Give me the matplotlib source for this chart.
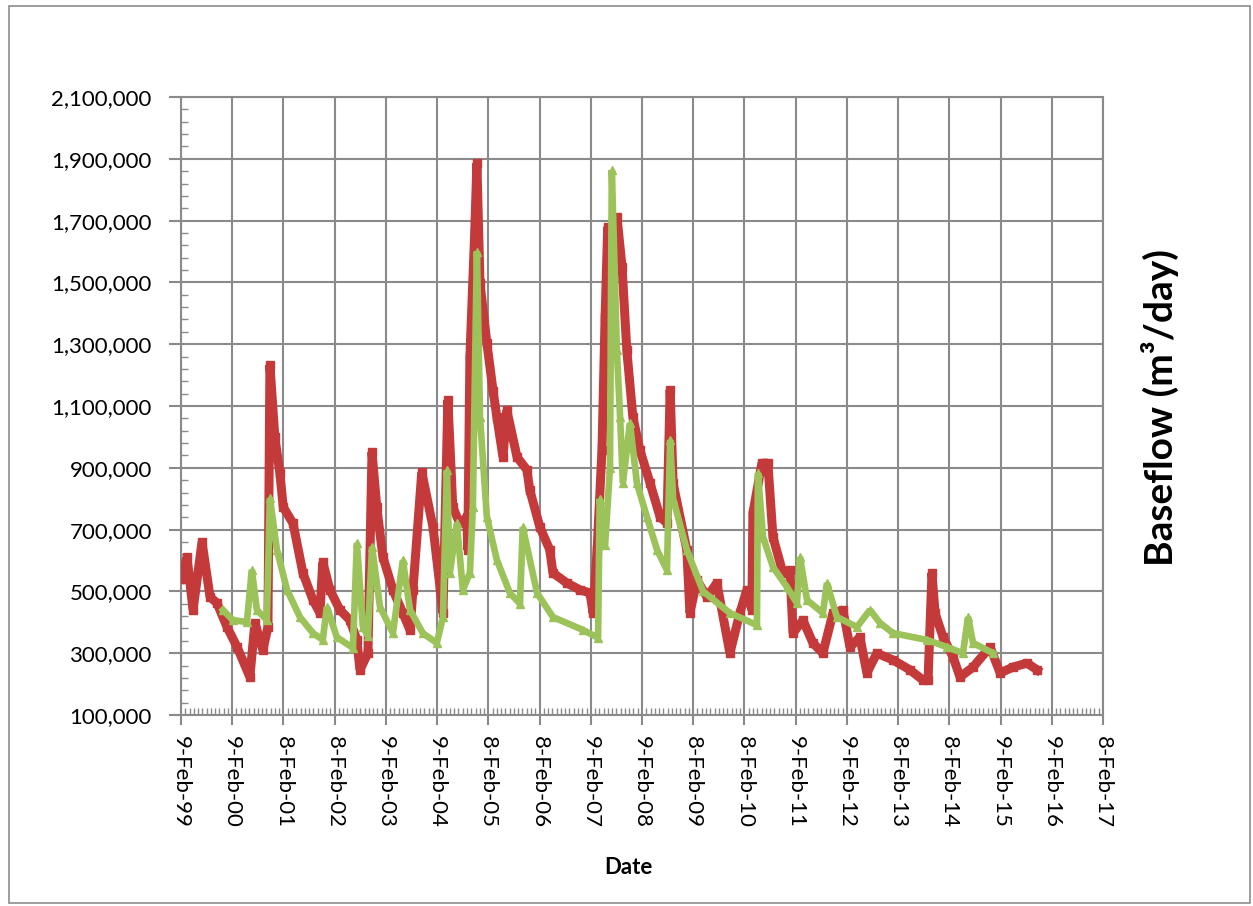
import matplotlib
matplotlib.use("Agg")
import matplotlib.pyplot as plt
import matplotlib.dates as mdates
from matplotlib.ticker import FixedLocator, FuncFormatter
from matplotlib.patches import Rectangle
import pandas as pd
import datetime as dt

# ---------------- data ----------------
red_dates = ["1999-02-10", "1999-03-24", "1999-05-06", "1999-07-09", "1999-09-04", "1999-10-24",
             "2000-01-03", "2000-03-15", "2000-06-14", "2000-07-20", "2000-09-15", "2000-10-21",
             "2000-11-04", "2000-12-09", "2001-01-14", "2001-02-07", "2001-04-18", "2001-06-27",
             "2001-09-07", "2001-10-27", "2001-11-16", "2002-01-06", "2002-03-18", "2002-05-29",
             "2002-07-17", "2002-08-08", "2002-10-04", "2002-11-02", "2002-12-06", "2003-01-19",
             "2003-03-31", "2003-06-10", "2003-07-31", "2003-08-21", "2003-10-23", "2004-01-11",
             "2004-03-01", "2004-03-22", "2004-04-26", "2004-05-31", "2004-07-20", "2004-09-08",
             "2004-09-15", "2004-09-30", "2004-11-04", "2004-11-19", "2004-12-11", "2005-01-29",
             "2005-03-14", "2005-04-10", "2005-05-24", "2005-06-20", "2005-09-01", "2005-11-11",
             "2005-12-01", "2006-02-11", "2006-04-23", "2006-05-15", "2006-08-23", "2006-11-24",
             "2007-02-04", "2007-02-25", "2007-03-26", "2007-04-30", "2007-05-22", "2007-06-10",
             "2007-07-09", "2007-08-15", "2007-09-20", "2007-10-24", "2007-12-06", "2008-01-25",
             "2008-04-07", "2008-06-17", "2008-08-05", "2008-08-28", "2008-09-18", "2008-12-25",
             "2009-01-16", "2009-03-07", "2009-05-17", "2009-07-27", "2009-10-28", "2010-01-07",
             "2010-02-26", "2010-04-03", "2010-04-10", "2010-06-13", "2010-07-26", "2010-08-31",
             "2010-11-10", "2010-12-30", "2011-01-21", "2011-04-02", "2011-06-12", "2011-08-22",
             "2011-11-02", "2012-01-12", "2012-03-02", "2012-05-12", "2012-07-01", "2012-09-10",
             "2013-01-03", "2013-05-04", "2013-08-05", "2013-09-10", "2013-10-08", "2013-10-30",
             "2013-12-26", "2014-03-07", "2014-04-26", "2014-07-28", "2014-11-26", "2015-02-06",
             "2015-05-09", "2015-08-17", "2015-10-28"]
red_values = [540000, 611000, 440000, 660000, 482000, 462000,
              385000, 320000, 223000, 398000, 310000, 385000,
              1233000, 1000000, 883000, 773000, 720000, 560000,
              472000, 430000, 595000, 505000, 440000, 407000,
              343000, 246000, 300000, 951000, 773000, 611000,
              505000, 430000, 375000, 505000, 886000, 708000,
              514000, 430000, 1120000, 773000, 720000, 740000,
              634000, 1258000, 1669000, 1886000, 1498000, 1304000,
              1150000, 1065000, 935000, 1087000, 935000, 893000,
              828000, 708000, 634000, 560000, 527000, 505000,
              495000, 430000, 634000, 958000, 1388000, 1680000,
              1600000, 1711000, 1550000, 1281000, 1065000, 958000,
              850000, 741000, 721000, 1152000, 850000, 634000,
              430000, 537000, 482000, 527000, 300000, 430000,
              505000, 440000, 753000, 915000, 915000, 676000,
              560000, 569000, 365000, 407000, 333000, 300000,
              430000, 440000, 320000, 352000, 236000, 300000,
              278000, 246000, 213000, 213000, 560000, 430000,
              352000, 288000, 223000, 255000, 320000, 236000,
              255000, 268000, 246000]

green_dates = ["1999-12-05", "2000-02-14", "2000-05-24", "2000-06-28", "2000-08-03", "2000-10-13",
               "2000-11-04", "2000-12-24", "2001-03-06", "2001-06-06", "2001-09-07", "2001-11-16",
               "2001-12-15", "2002-02-24", "2002-06-19", "2002-07-17", "2002-08-29", "2002-10-04",
               "2002-11-02", "2002-12-29", "2003-03-31", "2003-06-10", "2003-07-31", "2003-10-30",
               "2004-02-07", "2004-03-22", "2004-04-19", "2004-05-10", "2004-06-29", "2004-08-11",
               "2004-09-30", "2004-10-21", "2004-11-19", "2004-12-11", "2005-01-29", "2005-04-10",
               "2005-07-12", "2005-09-22", "2005-10-12", "2006-01-22", "2006-05-15", "2006-12-16",
               "2007-04-02", "2007-04-14", "2007-05-22", "2007-06-26", "2007-07-09", "2007-08-14",
               "2007-09-06", "2007-09-26", "2007-11-15", "2008-01-04", "2008-03-15", "2008-05-27",
               "2008-08-05", "2008-08-28", "2008-09-18", "2008-12-25", "2009-04-20", "2009-10-28",
               "2010-05-09", "2010-05-16", "2010-06-21", "2010-08-31", "2010-12-09", "2011-02-18",
               "2011-03-12", "2011-05-01", "2011-08-22", "2011-09-20", "2011-11-30", "2012-04-21",
               "2012-07-23", "2012-10-02", "2013-01-03", "2013-09-02", "2014-01-23", "2014-05-17",
               "2014-06-22", "2014-07-28", "2014-12-18"]
green_values = [440000, 407000, 401000, 570000, 440000, 407000,
                802000, 634000, 505000, 417000, 365000, 343000,
                450000, 352000, 317000, 657000, 385000, 355000,
                644000, 450000, 365000, 601000, 440000, 365000,
                333000, 417000, 893000, 560000, 720000, 505000,
                560000, 773000, 1600000, 1065000, 741000, 602000,
                495000, 460000, 708000, 495000, 417000, 375000,
                350000, 800000, 650000, 900000, 1864000, 1281000,
                1065000, 850000, 1045000, 850000, 741000, 634000,
                569000, 990000, 800000, 634000, 500000, 430000,
                391000, 883000, 676000, 579000, 514000, 462000,
                611000, 472000, 430000, 527000, 417000, 385000,
                440000, 398000, 365000, 343000, 320000, 300000,
                417000, 333000, 300000]

x_tick_labels = ["9-Feb-99", "9-Feb-00", "8-Feb-01", "8-Feb-02", "9-Feb-03", "9-Feb-04",
                 "8-Feb-05", "8-Feb-06", "9-Feb-07", "9-Feb-08", "8-Feb-09", "8-Feb-10",
                 "9-Feb-11", "9-Feb-12", "8-Feb-13", "8-Feb-14", "9-Feb-15", "9-Feb-16",
                 "8-Feb-17"]
y_min, y_max, y_step = 100000, 2100000, 200000

# ---------------- styling ----------------
RED = "#C43A3A"
GREEN = "#9CC35A"
GRID = "#8A8A8A"
FONT = ["Lato", "DejaVu Sans"]

fig = plt.figure(figsize=(12.53, 9.06), dpi=100)
fig.patch.set_facecolor("white")
fig.patches.append(Rectangle((9 / 1253, 1 - 903 / 906), (1250 - 9) / 1253, (903 - 6) / 906,
                             transform=fig.transFigure, fill=False,
                             edgecolor="#8C8C8C", linewidth=1.2))

ax = fig.add_axes([181 / 1253, 1 - 715 / 906, (1103 - 181) / 1253, (715 - 97) / 906])

rx = mdates.date2num(pd.to_datetime(red_dates))
gx = mdates.date2num(pd.to_datetime(green_dates))

ax.plot(rx, red_values, color=RED, lw=6.5, marker="s", ms=6, zorder=3,
        solid_joinstyle="bevel")
ax.plot(gx, green_values, color=GREEN, lw=4.8, marker="^", ms=6, zorder=4,
        solid_joinstyle="bevel")

start = mdates.date2num(dt.datetime(1999, 2, 9))
major = [start + k * 365.25 for k in range(len(x_tick_labels))]
minor = [start + k * 365.25 / 12 for k in range(12 * (len(x_tick_labels) - 1) + 1)]
ax.set_xlim(major[0], major[-1])
ax.set_ylim(y_min, y_max)

ax.xaxis.set_major_locator(FixedLocator(major))
ax.xaxis.set_minor_locator(FixedLocator(minor))
ax.set_xticklabels(x_tick_labels, rotation=-90, fontsize=16, family=FONT)

y_major = list(range(y_min, y_max + 1, y_step))
y_minor = list(range(y_min, y_max + 1, y_step // 5))
ax.yaxis.set_major_locator(FixedLocator(y_major))
ax.yaxis.set_minor_locator(FixedLocator(y_minor))
ax.yaxis.set_major_formatter(FuncFormatter(lambda v, p: f"{int(round(v)):,}"))
for lab in ax.get_yticklabels():
    lab.set_family(FONT)

ax.tick_params(axis="both", which="major", direction="out", color=GRID, width=1.5, labelcolor="black")
ax.tick_params(axis="y", which="major", length=9, pad=12, labelsize=16)
ax.tick_params(axis="x", which="major", length=7, pad=8, labelsize=16)
ax.tick_params(axis="both", which="minor", direction="in", color=GRID, width=1.0, length=5)

ax.grid(True, which="major", color=GRID, lw=1.5)
ax.set_axisbelow(True)
for s in ax.spines.values():
    s.set_color(GRID)
    s.set_linewidth(1.5)

fig.text(628 / 1253, 1 - 867 / 906, "Date", ha="center", va="center",
         fontsize=16, fontweight="bold", family=FONT)
fig.text(1160 / 1253, 1 - 408 / 906, "Baseflow (m\u00b3/day)", ha="center", va="center",
         rotation=90, fontsize=28, fontweight="bold", family=FONT)

fig.savefig("out.png", dpi=100, facecolor="white")
